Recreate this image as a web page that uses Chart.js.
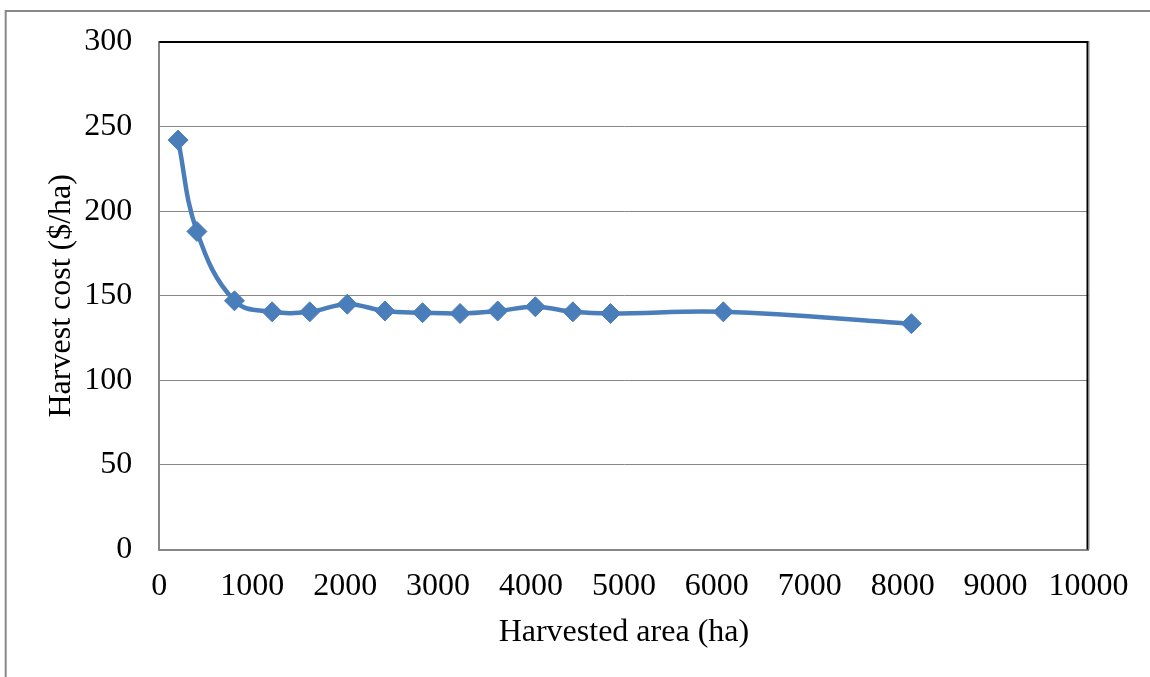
<!DOCTYPE html>
<html>
<head>
<meta charset="utf-8">
<title>Harvest cost vs harvested area</title>
<script src="https://cdn.jsdelivr.net/npm/chart.js@4/dist/chart.umd.min.js"></script>
<style>
  html, body { margin: 0; padding: 0; background: #ffffff; }
  canvas { display: block; }
</style>
</head>
<body>
<canvas id="chart" width="1150" height="677"></canvas>
<script>
// Harvested area (ha) and the matching harvest cost ($/ha)
const harvestedArea = [202, 405, 809, 1214, 1619, 2023, 2428, 2833, 3237, 3642, 4047, 4451, 4856, 6070, 8094];
const harvestCost = [242, 188, 147, 140.5, 140.5, 145, 141, 140, 139.5, 141, 143.5, 140.5, 139.5, 140.5, 133.5];

// Axis ranges and tick spacing
const xTickMax = 10000;
const xTickStep = 1000;
const yTickMax = 300;
const yTickStep = 50;

const xTitle = 'Harvested area (ha)';
const yTitle = 'Harvest cost ($/ha)';

const FONT = "'Liberation Serif', 'Times New Roman', serif";
const GRID_GREY = '#878787';
const SERIES_BLUE = '#4A7EBB';

// Outer chart frame plus the dark top/right edges of the plot area
const framePlugin = {
  id: 'frame',
  beforeDraw(chart) {
    const ctx = chart.ctx;
    ctx.save();
    ctx.fillStyle = '#ffffff';
    ctx.fillRect(0, 0, chart.width, chart.height);
    ctx.strokeStyle = '#888888';
    ctx.lineWidth = 2;
    ctx.beginPath();
    ctx.moveTo(5.7, chart.height);
    ctx.lineTo(5.7, 11);
    ctx.lineTo(chart.width, 11);
    ctx.stroke();
    ctx.restore();
  },
  beforeDatasetsDraw(chart) {
    const { ctx, chartArea } = chart;
    ctx.save();
    ctx.strokeStyle = '#000000';
    ctx.lineWidth = 2;
    ctx.beginPath();
    ctx.moveTo(chartArea.left, chartArea.top);
    ctx.lineTo(chartArea.right - 1, chartArea.top);
    ctx.lineTo(chartArea.right - 1, chartArea.bottom);
    ctx.stroke();
    ctx.strokeStyle = GRID_GREY;
    ctx.lineWidth = 1;
    ctx.beginPath();
    ctx.moveTo(chartArea.right + 0.5, chartArea.top - 1);
    ctx.lineTo(chartArea.right + 0.5, chartArea.bottom);
    ctx.stroke();
    ctx.restore();
  }
};

const plainNumber = (v) => String(v);

new Chart(document.getElementById('chart'), {
  type: 'line',
  data: {
    datasets: [{
      data: harvestedArea.map((a, i) => ({ x: a, y: harvestCost[i] })),
      borderColor: SERIES_BLUE,
      backgroundColor: SERIES_BLUE,
      borderWidth: 4.5,
      tension: 0.4,
      fill: false,
      pointStyle: 'rectRot',
      pointRadius: 10,
      pointBorderWidth: 1,
      pointBackgroundColor: SERIES_BLUE,
      pointBorderColor: SERIES_BLUE
    }]
  },
  options: {
    responsive: false,
    devicePixelRatio: 1,
    animation: false,
    layout: { padding: { left: 0, right: 61.5, top: 42, bottom: 0 } },
    plugins: {
      legend: { display: false },
      tooltip: { enabled: false }
    },
    scales: {
      x: {
        type: 'linear',
        min: 0,
        max: xTickMax,
        afterFit(scale) {
          scale.height = 127.5;
          scale.paddingLeft = 0;
          scale.paddingRight = 0;
        },
        ticks: {
          stepSize: xTickStep,
          maxRotation: 0,
          autoSkip: false,
          padding: 18.2,
          color: '#000000',
          callback: plainNumber,
          font: { family: FONT, size: 32, lineHeight: 1.2 }
        },
        grid: { display: false, drawTicks: false },
        border: { display: true, color: GRID_GREY, width: 2 },
        title: {
          display: true,
          text: xTitle,
          color: '#000000',
          font: { family: FONT, size: 32, lineHeight: 1 },
          padding: { top: 0, bottom: 28.8 }
        }
      },
      y: {
        type: 'linear',
        min: 0,
        max: yTickMax,
        afterFit(scale) {
          scale.width = 159.3;
          scale.paddingTop = 0;
          scale.paddingBottom = 0;
        },
        ticks: {
          stepSize: yTickStep,
          padding: 27,
          color: '#000000',
          callback: plainNumber,
          font: { family: FONT, size: 32, lineHeight: 1.2 }
        },
        grid: {
          drawTicks: false,
          color: (c) => (c.tick && c.tick.value === yTickMax ? '#000000' : GRID_GREY),
          lineWidth: (c) => (c.tick && c.tick.value === yTickMax ? 2 : 1)
        },
        border: { display: true, color: GRID_GREY, width: 2 },
        title: {
          display: true,
          text: yTitle,
          color: '#000000',
          font: { family: FONT, size: 32, lineHeight: 1 },
          padding: { top: 46, bottom: 0 }
        }
      }
    }
  },
  plugins: [framePlugin]
});
</script>
</body>
</html>
